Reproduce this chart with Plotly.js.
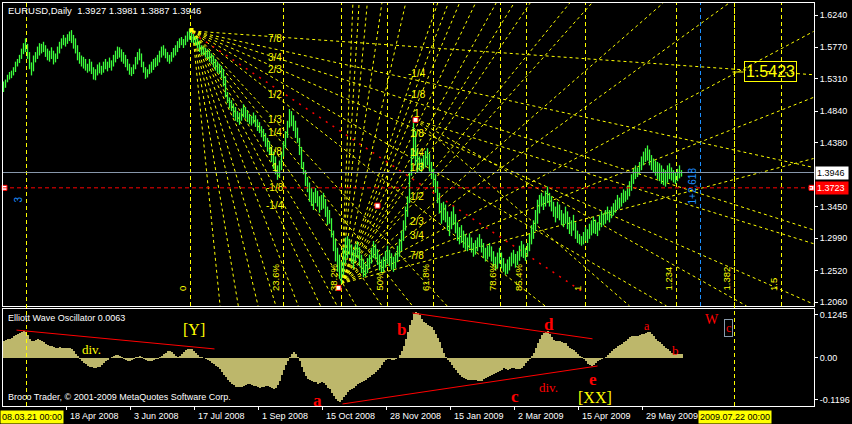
<!DOCTYPE html>
<html><head><meta charset="utf-8">
<script src="https://cdn.plot.ly/plotly-3.0.1.min.js"></script>
<style>html,body{margin:0;padding:0;background:#000;}#chart{width:852px;height:424px;}</style>
</head><body><div id="chart"></div>
<script>
// ---- price bars (daily EURUSD), bar index 0..339 ----
const hi = [1.527,1.530,1.537,1.541,1.543,1.548,1.556,1.560,1.566,1.575,1.583,1.590,
1.582,1.570,1.555,1.565,1.570,1.578,
1.583,1.582,1.585,1.580,1.575,1.572,1.577,1.572,1.568,1.578,1.585,1.590,1.595,
1.591,1.596,1.600,1.602,1.595,
1.590,1.580,1.570,1.565,1.563,1.560,1.553,1.560,1.556,1.548,1.545,
1.552,1.555,1.550,1.556,1.560,1.556,1.562,1.558,1.566,1.572,
1.578,1.577,1.574,1.570,1.566,
1.560,1.553,1.548,1.552,1.563,1.570,1.575,1.568,1.556,
1.548,1.545,1.552,1.556,
1.560,1.562,1.566,1.572,1.578,1.580,1.575,1.570,1.566,1.570,1.576,
1.580,1.586,1.590,1.592,1.589,1.594,1.600,1.604,1.599,1.597,
1.592,1.590,1.585,1.580,1.578,1.576,1.574,1.572,
1.568,1.565,1.560,1.556,1.553,1.550,1.545,
1.535,1.512,1.504,1.500,1.495,
1.490,1.484,1.482,1.488,1.494,1.490,1.485,1.480,1.477,1.482,1.478,1.472,
1.468,1.462,1.458,1.452,1.445,1.440,1.432,1.425,1.418,1.405,1.412,1.425,
1.440,1.455,1.470,1.487,1.484,1.478,
1.470,1.460,1.445,1.432,1.410,
1.398,1.388,1.380,1.372,1.366,1.372,1.368,1.360,
1.362,1.365,1.356,1.345,1.340,
1.328,1.310,1.298,1.285,1.275,1.265,1.285,
1.300,1.302,1.298,1.290,1.282,1.290,
1.294,1.286,1.275,1.268,1.262,1.270,1.275,
1.285,1.295,1.290,1.283,1.275,1.268,1.272,1.280,1.288,1.282,
1.277,1.272,1.278,1.288,1.298,1.310,1.325,
1.345,1.360,1.395,1.430,1.472,
1.455,1.430,1.418,1.415,1.420,1.426,1.430,1.422,1.410,1.400,1.392,
1.382,1.365,1.350,1.352,1.348,1.338,1.330,
1.338,1.345,1.334,1.322,1.315,1.318,1.310,
1.305,1.300,1.306,1.300,1.292,1.296,1.300,1.305,1.298,1.292,1.285,1.288,1.292,
1.287,1.280,1.272,1.278,1.285,1.278,1.270,1.262,1.268,1.272,
1.278,1.282,1.276,1.280,1.288,1.295,1.290,1.285,1.292,1.305,
1.318,1.325,1.340,1.355,1.362,1.365,1.360,1.368,1.374,
1.365,1.360,1.352,1.345,1.352,1.348,1.340,1.335,1.345,1.338,1.330,1.325,1.333,1.322,1.310,
1.305,1.302,1.308,1.315,1.312,1.320,
1.325,1.330,1.326,1.322,1.332,1.338,1.335,1.340,1.345,1.340,1.345,
1.350,1.355,1.362,1.358,1.365,1.370,1.368,1.375,
1.382,1.392,1.400,1.405,1.402,1.410,
1.418,1.425,1.430,1.434,1.428,1.420,
1.415,1.412,1.410,1.408,1.405,1.400,1.398,1.405,1.408,1.402,1.398,1.395,1.400,1.405,1.3981];
const lo = [1.512,1.518,1.526,1.530,1.532,1.536,1.541,1.549,1.554,1.560,1.567,1.570,
1.560,1.545,1.536,1.542,1.555,1.560,
1.565,1.568,1.570,1.563,1.558,1.556,1.560,1.552,1.555,1.560,1.568,1.575,1.580,
1.578,1.582,1.586,1.583,1.575,
1.568,1.558,1.553,1.549,1.546,1.543,1.540,1.542,1.538,1.530,1.529,
1.536,1.539,1.537,1.540,1.545,1.542,1.547,1.543,1.549,1.555,
1.560,1.562,1.556,1.553,1.548,
1.543,1.537,1.535,1.538,1.545,1.552,1.558,1.548,1.540,
1.531,1.533,1.538,1.540,
1.544,1.548,1.550,1.555,1.562,1.565,1.561,1.556,1.553,1.556,1.562,
1.565,1.570,1.576,1.580,1.576,1.580,1.585,1.588,1.584,1.583,
1.580,1.576,1.570,1.566,1.566,1.562,1.560,1.556,
1.553,1.548,1.543,1.540,1.538,1.532,1.520,
1.504,1.496,1.488,1.484,1.475,
1.470,1.468,1.464,1.470,1.475,1.473,1.468,1.465,1.463,1.466,1.461,1.455,
1.452,1.446,1.440,1.432,1.425,1.420,1.410,1.400,1.392,1.384,1.388,1.398,
1.418,1.430,1.445,1.460,1.462,1.455,
1.445,1.438,1.420,1.400,1.392,
1.375,1.366,1.352,1.346,1.340,1.350,1.345,1.336,
1.340,1.342,1.330,1.318,1.320,
1.300,1.280,1.265,1.250,1.240,1.233,1.245,
1.262,1.270,1.275,1.262,1.255,1.265,
1.270,1.258,1.248,1.242,1.243,1.248,1.255,
1.262,1.270,1.268,1.260,1.252,1.248,1.250,1.256,1.262,1.258,
1.253,1.250,1.255,1.264,1.272,1.280,1.295,
1.310,1.330,1.350,1.390,1.415,
1.405,1.395,1.398,1.395,1.400,1.402,1.405,1.396,1.385,1.375,1.365,
1.350,1.335,1.320,1.325,1.322,1.310,1.302,
1.312,1.318,1.306,1.295,1.290,1.292,1.285,
1.282,1.280,1.284,1.278,1.272,1.275,1.280,1.286,1.278,1.270,1.265,1.268,1.272,
1.265,1.258,1.252,1.255,1.262,1.255,1.250,1.246,1.247,1.252,
1.258,1.262,1.256,1.260,1.266,1.272,1.270,1.266,1.272,1.280,
1.290,1.298,1.310,1.320,1.335,1.345,1.340,1.345,1.350,
1.345,1.338,1.330,1.322,1.328,1.325,1.318,1.315,1.320,1.312,1.305,1.302,1.310,1.298,1.292,
1.290,1.288,1.290,1.295,1.292,1.298,
1.303,1.306,1.305,1.302,1.310,1.315,1.318,1.320,1.325,1.322,1.328,
1.332,1.336,1.340,1.342,1.345,1.350,1.352,1.355,
1.360,1.368,1.378,1.385,1.388,1.392,
1.398,1.405,1.410,1.412,1.405,1.398,
1.395,1.390,1.385,1.382,1.378,1.376,1.374,1.380,1.385,1.383,1.380,1.378,1.382,1.386,1.3887];

// ---- Elliott Wave Oscillator histogram ----
const ewo = [0.050,0.052,0.054,0.055,0.058,0.062,0.066,
0.070,0.073,0.075,0.077,0.076,
0.065,0.055,0.049,
0.050,0.052,0.055,0.053,0.050,
0.045,0.040,0.036,0.034,0.034,
0.032,0.030,0.030,0.031,0.030,0.030,0.030,0.029,0.028,0.025,0.020,0.012,
0.005,-0.003,
-0.008,-0.013,-0.018,-0.022,-0.025,-0.027,-0.028,-0.028,-0.027,-0.025,-0.020,-0.015,-0.010,-0.005,-0.001,
0.003,0.006,0.009,0.009,0.006,0.002,
-0.003,-0.007,-0.010,-0.009,-0.005,-0.002,
0.002,0.004,0.005,0.003,-0.002,-0.006,
-0.009,-0.009,-0.008,-0.006,-0.004,-0.002,0.002,0.006,0.010,
0.015,0.019,0.020,0.018,0.012,0.006,
0.002,0.005,0.012,0.018,0.022,0.025,
0.026,0.025,0.020,0.014,0.008,
0.004,0.002,0.000,-0.003,
-0.006,-0.010,-0.014,-0.018,-0.022,-0.027,-0.033,-0.040,-0.048,-0.056,-0.062,-0.068,-0.074,
-0.078,-0.082,-0.083,-0.083,-0.082,-0.080,-0.078,-0.076,-0.076,-0.077,-0.079,-0.081,-0.083,-0.085,-0.084,-0.082,-0.080,-0.080,-0.082,
-0.086,-0.088,-0.085,-0.078,
-0.065,-0.050,-0.035,-0.020,-0.008,0.004,
0.012,0.016,0.010,0.002,
-0.010,-0.025,-0.040,-0.052,-0.060,
-0.062,-0.065,-0.068,-0.070,-0.075,-0.072,-0.070,-0.073,-0.078,-0.085,-0.090,
-0.100,-0.110,-0.118,-0.124,-0.126,-0.122,-0.112,
-0.105,-0.098,-0.092,-0.088,-0.086,-0.080,-0.076,-0.072,-0.068,-0.065,-0.062,
-0.058,-0.055,-0.050,-0.045,-0.040,-0.035,-0.028,-0.020,-0.012,
-0.006,-0.003,-0.004,-0.007,-0.006,-0.003,0.000,
0.008,0.020,0.035,0.055,0.075,0.095,0.110,
0.125,0.132,0.130,0.122,
0.112,0.104,0.100,0.095,0.092,0.088,0.080,
0.070,0.058,0.045,0.030,0.015,0.004,
-0.005,-0.012,-0.020,-0.028,-0.035,-0.042,-0.048,-0.054,-0.058,
-0.060,-0.062,-0.064,-0.063,-0.062,-0.064,-0.066,-0.067,-0.065,
-0.060,-0.057,-0.055,-0.052,-0.050,-0.046,-0.042,-0.040,-0.038,-0.034,-0.030,-0.032,-0.035,
-0.033,-0.030,-0.030,-0.032,-0.032,-0.031,-0.028,-0.022,-0.015,
-0.008,-0.002,0.005,0.015,
0.028,0.042,0.055,0.065,0.072,0.076,0.077,
0.070,0.060,0.052,0.050,0.050,0.048,0.045,0.043,0.042,
0.035,0.030,0.025,0.022,0.018,0.012,0.007,0.002,
-0.004,-0.010,-0.016,-0.020,-0.022,-0.020,-0.015,-0.010,
-0.006,-0.003,-0.001,0.002,
0.008,0.015,0.020,0.025,0.030,0.035,0.038,0.040,0.045,0.050,
0.055,0.060,0.063,0.063,0.063,0.064,0.066,0.068,0.070,
0.073,0.075,0.076,0.070,0.062,
0.055,0.050,0.045,0.040,0.035,0.030,0.025,0.020,0.015,
0.012,0.010,0.010,0.010,0.010];

// ---- axis ticks ----
const dateTickX = [31.5,63.5,95.5,127.5,159.5,191.5,223.5,255.5,287.5,319.5];
const dateTickText = ['18 Apr 2008','3 Jun 2008','17 Jul 2008','1 Sep 2008','15 Oct 2008','28 Nov 2008','15 Jan 2009','2 Mar 2009','15 Apr 2009','29 May 2009'];
const priceTicks = [1.6240,1.5770,1.5310,1.4840,1.4380,1.3450,1.2990,1.2520,1.2060];
const priceTickText = ['1.6240','1.5770','1.5310','1.4840','1.4380','1.3450','1.2990','1.2520','1.2060'];
const oscTicks = [0.1245,0,-0.1196];
const oscTickText = ['0.1245','0.00','-0.1196'];
const bidPrice = 1.3946, markPrice = 1.3723;

// ---- Fibonacci time zones ----
const fibX = [93.5,140,169,192,215,248.5,261.5,291,336.5,365.5,389];
const fibLabel = ['0','23.6%','38.2%','50%','61.8%','78.6%','85.4%','1','1.234','1.382','1.5'];
const cursorX = [11.5,365.5];
const cursorText = ['08.03.21 00:00','2009.07.22 00:00'];
const blueX = 348.5;

// ---- fans: origin + far end points ----
const fanAorigin = [94.5,1.6007];
const fanAend = [[405,1.537],[405,1.402],[405,1.311],[405,1.203],[331.5,1.2003],[270.8,1.2003],[221.8,1.2003],[204.5,1.2003],[189.3,1.2003],[176.3,1.2003],[166.8,1.2003],[158.5,1.2003],[147.4,1.2003],[136.2,1.2003],[127.3,1.2003],[117.4,1.2003],[108.3,1.2003]];
const fanBorigin = [169,1.233];
const fanBend = [[405,1.415],[405,1.504],[405,1.600],[362.8,1.6414],[329.8,1.6414],[294.2,1.6414],[283.1,1.6414],[263.3,1.6414],[255.3,1.6414],[246.3,1.6414],[236,1.6414],[228,1.6414],[222.4,1.6414],[217.1,1.6414],[201.1,1.6414],[189.2,1.6414],[181.9,1.6414],[177.8,1.6414],[174.7,1.6414]];
const fanCorigin = [206,1.4713];
const fanCend = [[405,1.291],[371.5,1.2003],[313,1.2003]];
const redLine = [[94.5,1.5978],[290.5,1.2192]];
const fanALabels = ['7/8','3/4','2/3','1/2','1/3','1/4','1/8','1','-1/8','-1/4'];
const fanALabelY = [1.5905,1.5628,1.5453,1.5075,1.4725,1.4536,1.4259,1.4012,1.3735,1.3459];
const fanBLabels = ['-1/4','-1/8','1','1/8','1/4','1/3','1/2','2/3','3/4','7/8'];
const fanBLabelY = [1.5395,1.5089,1.4811,1.4518,1.4231,1.4026,1.3604,1.3226,1.3022,1.2731];
const pivots = [[167.5,1.2266],[206,1.4713],[187,1.3463]];

// ---- oscillator trend lines ----
const oscLines = [[6.5,0.080,105.5,0.026],[169.5,-0.132,297,-0.023],[204.5,0.129,294.5,0.055]];

const N = hi.length;
const idx = Array.from({length:N},(_,i)=>i);
const bx=[],by=[];
for(let i=0;i<N;i++){bx.push(i,i,null);by.push(lo[i],hi[i],null);}

function fanTrace(o,ends,color){
  const x=[],y=[];
  ends.forEach(e=>{x.push(o[0],e[0],null);y.push(o[1],e[1],null);});
  return {type:'scatter',mode:'lines',x:x,y:y,xaxis:'x',yaxis:'y',hoverinfo:'skip',
    line:{color:color,width:1,dash:'3px,3px'},showlegend:false};
}

const traces = [
  fanTrace(fanAorigin,fanAend,'#ffff00'),
  fanTrace(fanBorigin,fanBend,'#ffff00'),
  fanTrace(fanCorigin,fanCend,'#ffff00'),
  {type:'scatter',mode:'lines',x:[redLine[0][0],redLine[1][0]],y:[redLine[0][1],redLine[1][1]],
    line:{color:'#ff0000',width:1.5,dash:'2px,6px'},hoverinfo:'skip',showlegend:false},
  {type:'scatter',mode:'lines',x:bx,y:by,xaxis:'x',yaxis:'y',line:{color:'#3cff3c',width:1.3},hoverinfo:'skip',showlegend:false},
  {type:'scatter',mode:'markers',x:pivots.map(p=>p[0]),y:pivots.map(p=>p[1]),
    marker:{symbol:'square',size:5,color:'#ffffff',line:{color:'#ff0000',width:1}},hoverinfo:'skip',showlegend:false},
  {type:'scatter',mode:'markers',x:[fanAorigin[0]-0.5],y:[1.6022],
    marker:{symbol:'square',size:4,color:'#ffff00'},hoverinfo:'skip',showlegend:false},
  {type:'scatter',mode:'markers',x:[0.5,404],y:[markPrice,markPrice],
    marker:{symbol:'square',size:5,color:'#ffffff',line:{color:'#ff0000',width:1}},hoverinfo:'skip',showlegend:false,cliponaxis:false},
  {type:'bar',x:idx,y:ewo,xaxis:'x2',yaxis:'y2',width:1,marker:{color:'#bdb76b',line:{width:0}},hoverinfo:'skip',showlegend:false}
];

const shapes = [];
fibX.forEach(x=>shapes.push({type:'line',xref:'x',yref:'y domain',x0:x,x1:x,y0:0,y1:1,line:{color:'#ffff00',width:1,dash:'4px,3px'},layer:'below'}));
shapes.push({type:'line',xref:'x',yref:'y domain',x0:blueX,x1:blueX,y0:0,y1:1,line:{color:'#1e90ff',width:1,dash:'4px,3px'},layer:'below'});
cursorX.forEach(x=>shapes.push({type:'line',xref:'x',yref:'paper',x0:x,x1:x,y0:0,y1:1,line:{color:'#ffff00',width:1,dash:'4px,3px'}}));
shapes.push({type:'line',xref:'x domain',yref:'y',x0:0,x1:1,y0:bidPrice,y1:bidPrice,line:{color:'#8797aa',width:1}});
shapes.push({type:'line',xref:'x domain',yref:'y',x0:0,x1:1,y0:markPrice,y1:markPrice,line:{color:'#ff0000',width:1,dash:'4px,3px'}});
shapes.push({type:'line',xref:'x',yref:'y',x0:364.5,x1:370,y0:1.541,y1:1.541,line:{color:'#ffff00',width:1}});
oscLines.forEach(l=>shapes.push({type:'line',xref:'x2',yref:'y2',x0:l[0],y0:l[1],x1:l[2],y1:l[3],line:{color:'#ff0000',width:1}}));

const F = 'Liberation Sans, Arial, sans-serif';
const S = 'Liberation Serif, Times New Roman, serif';
const ann = [];
function A(o){ann.push(Object.assign({showarrow:false,xanchor:'center',yanchor:'middle',font:{family:F,size:9,color:'#ffffff'}},o));}
const py = p => (406-p)/403; // paper y from pixel row
A({xref:'paper',yref:'paper',x:3/811,y:py(11),xanchor:'left',text:'EURUSD,Daily\u00a0\u00a01.3927 1.3981 1.3887 1.3946',font:{family:F,size:9.5,color:'#ffffff'}});
fanALabels.forEach((t,k)=>A({xref:'x',yref:'y',x:135.5,y:fanALabelY[k],text:t,font:{family:F,size:10,color:'#ffff00'}}));
fanBLabels.forEach((t,k)=>A({xref:'x',yref:'y',x:206.5,y:fanBLabelY[k],text:t,font:{family:F,size:10,color:'#ffff00'}}));
fibLabel.forEach((t,k)=>A({xref:'x',yref:'y',x:fibX[k]-4,y:1.2192,yanchor:'bottom',textangle:-90,text:t,font:{family:F,size:9.5,color:'#ffff00'}}));
A({xref:'x',yref:'y',x:7.5,y:1.3546,textangle:-90,text:'3',font:{family:F,size:10,color:'#1e90ff'}});
A({xref:'x',yref:'y',x:344.5,y:1.3750,textangle:-90,text:'1+2,618',font:{family:F,size:10,color:'#1e90ff'}});
A({xref:'x',yref:'y',x:370,y:1.541,xanchor:'left',text:'1.5423',bordercolor:'#ffff00',borderwidth:1,borderpad:1,font:{family:F,size:16,color:'#ffff00'}});
// price boxes on axis
A({xref:'paper',yref:'y',x:1,xshift:1,y:bidPrice,xanchor:'left',text:'1.3946 ',bgcolor:'#ffffff',borderpad:1,font:{family:F,size:9,color:'#000000'}});
A({xref:'paper',yref:'y',x:1,xshift:1,y:markPrice,xanchor:'left',text:'1.3723 ',bgcolor:'#ff0000',borderpad:1,font:{family:F,size:9,color:'#ffffff'}});
// oscillator labels
A({xref:'paper',yref:'paper',x:3/811,y:py(318),xanchor:'left',text:'Elliott Wave Oscillator 0.0063'});
A({xref:'paper',yref:'paper',x:3/811,y:py(397),xanchor:'left',text:'Broco Trader, \u00a9 2001-2009 MetaQuotes Software Corp.'});
const oscTxt = [
 ['[Y]',95,329,16,'#ffff00',false],['div.',44,349,13,'#ffff00',false],
 ['b',199,329,17,'#ff0000',true],['a',157,400,17,'#ff0000',true],['d',272.5,324,17,'#ff0000',true],
 ['a',321.5,326,12,'#ff0000',false],['b',336,350,13,'#ff0000',false],['W',354,319,14,'#ff0000',false],
 ['e',294.5,379,17,'#ff0000',true],['div.',272.5,387,13,'#ff0000',false],['c',255.5,396,17,'#ff0000',true],
 ['[XX]',295.5,397,16,'#ffff00',false]];
oscTxt.forEach(t=>A({xref:'x2',yref:'paper',x:t[1],y:py(t[2]),text:t[5]?'<b>'+t[0]+'</b>':t[0],font:{family:S,size:t[3],color:t[4]}}));
A({xref:'x2',yref:'paper',x:362.5,y:py(328),text:'c',bordercolor:'#8899aa',borderwidth:1,borderpad:1,font:{family:S,size:12,color:'#ff0000'}});
// date labels
dateTickX.forEach((x,k)=>A({xref:'x2',yref:'paper',x:x,xshift:1,y:py(416),xanchor:'left',text:dateTickText[k]}));
A({xref:'paper',yref:'paper',x:-3/811,y:py(417),xanchor:'left',text:cursorText[0],bgcolor:'#ffff00',borderpad:1,font:{family:F,size:9,color:'#000000'}});
A({xref:'x2',yref:'paper',x:cursorX[1],y:py(417),text:cursorText[1],bgcolor:'#ffff00',borderpad:1,font:{family:F,size:9,color:'#000000'}});

const axCommon = {showgrid:false,zeroline:false,showline:true,mirror:true,linecolor:'#ffffff',linewidth:1};
const layout = {
  width:852,height:424,margin:{l:3,r:38,t:3,b:18},
  paper_bgcolor:'#000000',plot_bgcolor:'#000000',showlegend:false,bargap:0,
  font:{family:F,size:9,color:'#ffffff'},
  xaxis:Object.assign({},axCommon,{range:[-0.25,405.25],anchor:'y',showticklabels:false,ticks:''}),
  yaxis:Object.assign({},axCommon,{domain:[0.2481,1],range:[1.20017,1.64148],side:'right',ticks:'outside',ticklen:3,tickcolor:'#ffffff',
     tickvals:priceTicks,ticktext:priceTickText,tickfont:{family:F,size:9,color:'#ffffff'}}),
  xaxis2:Object.assign({},axCommon,{range:[-0.25,405.25],anchor:'y2',matches:'x',ticks:'outside',ticklen:3,tickcolor:'#ffffff',tickvals:dateTickX,showticklabels:false}),
  yaxis2:Object.assign({},axCommon,{domain:[0,0.2407],range:[-0.1378,0.1406],side:'right',ticks:'outside',ticklen:3,tickcolor:'#ffffff',
     tickvals:oscTicks,ticktext:oscTickText,tickfont:{family:F,size:9,color:'#ffffff'}}),
  shapes:shapes,annotations:ann
};
Plotly.newPlot('chart',traces,layout,{staticPlot:true,displayModeBar:false});
</script></body></html>
